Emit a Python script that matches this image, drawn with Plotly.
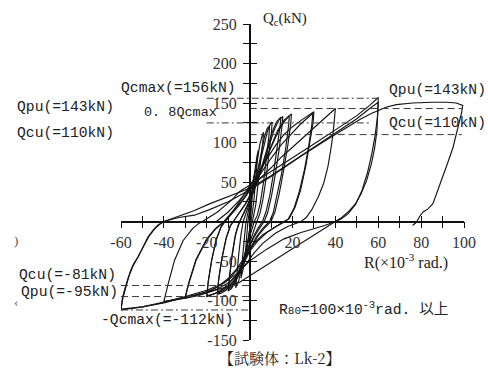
import plotly.graph_objects as go

# ---------------- data (R in 1e-3 rad, Qc in kN) ----------------
loop_c1 = [(0, 0), (0.5, 18), (1.0, 35), (1.6, 50), (2.0, 58), (1.7, 46), (1.2, 28), (0.6, 8), (0.0, -10),
           (-0.7, -26), (-1.4, -38), (-2.0, -45), (-1.7, -30), (-1.2, -12), (-0.8, 0)]
loop_c2 = [(-0.8, 0), (-0.2, 10), (0.6, 26), (1.5, 46), (2.5, 68), (3.4, 82), (4.0, 90), (3.6, 76), (2.8, 50),
           (1.9, 24), (1.0, 6), (0.2, -8), (-0.8, -24), (-2.0, -44), (-3.0, -60), (-3.7, -68), (-4.0, -72),
           (-3.5, -52), (-2.8, -28), (-2.0, -8), (-1.6, 0)]
loop_c3 = [(-1.6, 0), (-0.8, 10), (0.2, 22), (1.2, 38), (2.4, 58), (3.6, 80), (4.8, 98), (5.8, 108), (6.5, 113),
           (6.2, 102), (5.2, 76), (4.0, 46), (2.8, 20), (1.6, 4), (0.4, -10), (-1.0, -26), (-2.4, -44),
           (-3.8, -62), (-5.2, -76), (-6.5, -84), (-6.0, -66), (-5.1, -42), (-4.0, -16), (-3.0, 0)]
loop_c4 = [(-3.0, 0), (-2.0, 9), (-0.5, 20), (1.0, 32), (2.5, 48), (4.0, 68), (5.5, 90), (7.0, 108), (8.2, 118),
           (9.3, 121), (9.0, 108), (7.9, 80), (6.5, 50), (5.0, 24), (3.6, 8), (2.2, 0), (0.8, -12), (-0.8, -26),
           (-2.5, -44), (-4.5, -62), (-6.5, -76), (-8.5, -85), (-10.0, -88), (-9.4, -70), (-8.2, -45),
           (-6.8, -20), (-5.5, -6), (-4.6, 0)]
loop_c4b = [(-4.6, 0), (-3.2, 8), (-1.5, 18), (0.5, 30), (2.5, 48), (4.5, 72), (6.5, 96), (8.3, 114), (9.6, 123),
            (10.5, 126), (10.2, 114), (9.1, 86), (7.7, 55), (6.2, 28), (4.8, 10), (3.4, 0), (1.8, -12),
            (0.0, -27), (-2.0, -45), (-4.2, -62), (-6.4, -75), (-8.4, -83), (-10.0, -86), (-9.3, -66),
            (-8.1, -40), (-6.6, -16), (-5.2, -4), (-4.6, 0)]
loop_c5 = [(-4.6, 0), (-3.0, 9), (-1.0, 19), (1.0, 31), (3.0, 46), (5.5, 68), (8.0, 92), (10.5, 113), (12.5, 126),
           (14.0, 131), (14.6, 132), (14.2, 121), (12.9, 94), (11.2, 62), (9.4, 33), (7.6, 12), (6.0, 0),
           (4.0, -8), (2.0, -18), (0.0, -31), (-2.5, -50), (-5.0, -67), (-8.0, -80), (-11.0, -87),
           (-13.5, -91), (-15.0, -92), (-14.5, -75), (-13.0, -48), (-11.0, -22), (-9.0, -6), (-7.6, 0)]
loop_c5b = [(-7.6, 0), (-5.5, 8), (-3.0, 17), (0.0, 30), (3.0, 46), (6.0, 70), (9.0, 96), (11.5, 116), (13.5, 128),
            (15.5, 133), (15.1, 121), (13.8, 92), (12.0, 60), (10.2, 32), (8.4, 11), (6.8, 0), (4.5, -9),
            (2.0, -20), (-0.5, -34), (-3.0, -52), (-6.0, -69), (-9.0, -80), (-12.0, -87), (-15.0, -91),
            (-14.4, -72), (-12.9, -46), (-10.9, -20), (-9.0, -5), (-7.6, 0)]
loop_c6 = [(-7.6, 0), (-5.0, 10), (-2.0, 22), (1.0, 38), (4.0, 55), (7.0, 75), (10.0, 96), (13.0, 115), (16.0, 128),
           (18.3, 134), (19.5, 136), (19.2, 124), (17.8, 96), (15.8, 64), (13.8, 35), (11.8, 12), (10.0, 0),
           (7.0, -8), (4.0, -18), (1.0, -32), (-2.0, -50), (-5.0, -66), (-8.0, -78), (-12.0, -86),
           (-16.0, -91), (-20.0, -95), (-19.3, -76), (-17.8, -50), (-15.8, -25), (-13.5, -8), (-11.5, 0)]
loop_c6b = [(-11.5, 0), (-8.5, 9), (-5.0, 20), (-1.5, 33), (2.0, 48), (6.0, 70), (10.0, 94), (13.5, 115),
            (16.0, 126), (18.5, 134), (18.2, 122), (16.9, 94), (15.0, 62), (13.0, 34), (11.0, 11), (9.3, 0),
            (6.0, -9), (3.0, -20), (0.0, -35), (-3.0, -52), (-6.0, -67), (-10.0, -80), (-14.0, -88),
            (-17.0, -92), (-20.0, -94), (-19.2, -74), (-17.6, -48), (-15.5, -22), (-13.2, -6), (-11.5, 0)]
loop_c7 = [(-11.5, 0), (-8.0, 12), (-4.0, 28), (0.0, 45), (4.0, 62), (8.0, 80), (12.0, 96), (16.0, 110),
           (20.0, 120), (24.0, 128), (27.0, 134), (29.0, 137), (30.0, 139), (29.6, 125), (28.2, 100),
           (26.2, 70), (23.8, 40), (21.2, 18), (18.5, 4), (16.5, 0), (12.0, -7), (8.0, -14), (4.0, -24),
           (0.0, -38), (-4.0, -55), (-8.0, -68), (-12.0, -78), (-17.0, -86), (-22.0, -91), (-26.0, -94),
           (-30.0, -97), (-29.2, -86), (-28.0, -75), (-25.0, -49), (-20.2, -24), (-16.0, -10), (-13.0, -3),
           (-12.0, 0)]
loop_c7b = [(-15.5, 0), (-10.0, 12), (-5.0, 26), (0.0, 42), (5.0, 60), (10.0, 80), (15.0, 98), (20.0, 113),
            (24.0, 124), (27.0, 131), (29.5, 137), (29.0, 122), (27.6, 96), (25.6, 66), (23.2, 38), (20.6, 16),
            (18.0, 3), (16.0, 0), (11.0, -8), (6.0, -17), (2.0, -28), (-2.0, -44), (-6.0, -60), (-10.0, -72),
            (-15.0, -83), (-20.0, -89), (-25.0, -93), (-30.0, -96), (-28.0, -74), (-25.0, -48), (-20.2, -23),
            (-16.0, -9), (-13.0, -2), (-12.0, 0)]
loop_c8 = [(-12.0, 0), (-8.0, 12), (-4.0, 25), (0.0, 40), (5.0, 55), (10.0, 68), (15.0, 82), (20.0, 94),
           (25.0, 106), (30.0, 118), (35.0, 130), (38.0, 138), (40.0, 143), (39.5, 128), (38.9, 111),
           (37.8, 90), (36.5, 69), (34.5, 48), (32.0, 31), (29.0, 15), (26.4, 5), (24.0, 0), (18.0, -6),
           (12.0, -15), (6.0, -28), (2.0, -40), (-2.0, -55), (-6.0, -68), (-10.0, -78), (-16.0, -87),
           (-24.0, -94), (-32.0, -98), (-40.0, -101), (-38.0, -79), (-35.0, -49), (-31.0, -24), (-26.6, -9),
           (-24.0, -3), (-22.0, 0)]
loop_c9 = [(-22.0, 0), (-15.0, 12), (-8.0, 28), (-4.7, 38), (0.0, 46), (10.0, 63), (20.0, 80), (30.0, 98),
           (40.0, 116), (50.0, 134), (56.0, 147), (60.0, 157), (59.8, 140), (59.4, 115), (58.3, 93),
           (56.8, 73), (54.6, 52), (52.0, 35), (49.5, 23), (46.7, 14), (43.0, 5), (40.0, 0), (35.0, -5),
           (30.0, -9), (24.0, -14), (16.0, -22), (8.0, -35), (0.0, -50), (-6.0, -66), (-12.0, -78),
           (-20.0, -87), (-30.0, -95), (-40.0, -102), (-50.0, -108), (-60.0, -112), (-59.2, -98),
           (-58.3, -88), (-57.3, -79), (-55.5, -62), (-54.0, -53), (-52.0, -45), (-50.0, -33), (-47.5, -20),
           (-45.0, -11), (-43.0, -5), (-40.0, 0)]
loop_c9b = [(-40.0, 0), (-34.0, 6), (-30.0, 10), (-25.7, 14), (-19.0, 22), (-12.0, 29), (-6.0, 35), (0.0, 42),
            (10.0, 58), (20.0, 76), (30.0, 94), (40.0, 112), (50.0, 130), (56.0, 143), (60.0, 151),
            (59.6, 132), (58.6, 110), (57.0, 86), (55.0, 62), (52.5, 40), (49.5, 22), (46.0, 10), (42.5, 3),
            (40.0, 0), (30.0, -17.2), (20.0, -34.4), (10.0, -51.7), (0.0, -68.9), (-4.7, -77), (-12.0, -84),
            (-20.0, -89), (-30.0, -96), (-40.0, -103), (-50.0, -108), (-60.0, -111), (-59.3, -96),
            (-58.2, -85), (-56.5, -70), (-54.5, -57), (-52.0, -44), (-49.5, -31), (-47.0, -19), (-44.5, -10),
            (-42.0, -3.5), (-40.0, 0)]
loop_final = [(-40.0, 0), (-33.0, 5), (-25.7, 8), (-18.7, 15), (-10.0, 25), (-4.7, 33), (0.0, 40), (10.0, 57),
              (23.0, 81), (35.0, 102), (45.0, 119), (52.0, 130), (57.0, 137), (60.2, 140.5), (64.0, 145),
              (68.4, 148), (76.0, 150), (85.5, 151), (92.0, 151), (96.4, 150), (99.4, 147), (98.9, 138),
              (98.0, 128), (96.8, 112), (94.9, 94), (92.5, 75), (90.0, 56), (87.8, 40), (85.5, 22.5),
              (83.2, 16), (80.9, 12), (79.2, 6), (77.8, -1), (76.0, -5)]

loops = [loop_c1, loop_c2, loop_c3, loop_c4, loop_c4b, loop_c5, loop_c5b, loop_c6, loop_c6b,
         loop_c7, loop_c7b, loop_c8, loop_c9, loop_c9b, loop_final]

# reference levels (kN) and their R extents
ref_values = [156, 124.8, 143, 110, -81, -95, -112]
ref_r_from = [-20, -20, 0, 0, -60, -60, -60]
ref_r_to = [60, 57, 99, 99, 0, 0, 0]
ref_dash = ["dashdot", "dashdot", "dash", "dash", "dash", "dash", "dashdot"]

x_tick_vals = [-60, -50, -40, -30, -20, -10, 0, 10, 20, 30, 40, 50, 60, 70, 80, 90, 100]
x_tick_text = ["-60", "", "-40", "", "-20", "", "", "", "20", "", "40", "", "60", "", "80", "", "100"]
y_tick_vals = [-150, -125, -100, -75, -50, -25, 0, 25, 50, 75, 100, 125, 150, 175, 200, 225, 250]
y_tick_text = ["-150", "", "-100", "", "-50", "", "", "", "50", "", "100", "", "150", "", "200", "", "250"]

# ---------------- figure ----------------
W, H = 488, 370
ML, MR, MT, MB = 121, 24, 24, 30
PW, PH = W - ML - MR, H - MT - MB

fig = go.Figure()
for lp in loops:
    rr = [p[0] for p in lp]
    qq = [p[1] for p in lp]
    fig.add_trace(go.Scatter(x=rr, y=qq, mode="lines", line=dict(color="#141414", width=1.15),
                             showlegend=False, hoverinfo="skip"))

dash_map = {"dash": "7px,4px", "dashdot": "7px,3px,2px,3px"}
for v, a, b, d in zip(ref_values, ref_r_from, ref_r_to, ref_dash):
    fig.add_trace(go.Scatter(x=[a, b], y=[v, v], mode="lines", xaxis="x2", yaxis="y2",
                             line=dict(color="#3a3a3a", width=1.0, dash=dash_map[d]),
                             showlegend=False, hoverinfo="skip"))

serif = "Liberation Serif, DejaVu Serif, serif"
mono = "Liberation Mono, Noto Sans CJK JP, monospace"
XR = [-60, 100]
YR = [-150, 250]
xpos = (0 - XR[0]) / (XR[1] - XR[0])
ypos = (0 - YR[0]) / (YR[1] - YR[0])

common = dict(showgrid=False, zeroline=False, automargin=False, tickcolor="#111", tickwidth=1.2, ticklen=6)
fig.update_layout(
    width=W, height=H, margin=dict(l=ML, r=MR, t=MT, b=MB),
    paper_bgcolor="white", plot_bgcolor="white",
    xaxis=dict(range=XR, anchor="free", position=ypos, showline=True, linecolor="#111", linewidth=1.6,
               ticks="outside", tickmode="array", tickvals=x_tick_vals, ticktext=x_tick_text,
               tickfont=dict(family=serif, size=16, color="#333"), **common),
    xaxis2=dict(range=XR, overlaying="x", anchor="free", position=ypos, showline=False,
                ticks="inside", tickmode="array", tickvals=x_tick_vals, showticklabels=False, **common),
    yaxis=dict(range=YR, anchor="free", position=xpos, side="left", showline=True, linecolor="#111",
               linewidth=1.6, ticks="outside", tickmode="array", tickvals=y_tick_vals, ticktext=y_tick_text,
               tickfont=dict(family=serif, size=16, color="#333"), ticklabelstandoff=3, **common),
    yaxis2=dict(range=YR, overlaying="y", anchor="free", position=xpos, side="left", showline=False,
                ticks="inside", tickmode="array", tickvals=y_tick_vals, showticklabels=False, **common),
)


def P(px, py):
    return (px - ML) / PW, (H - MB - py) / PH


def add_text(text, px, py, family=mono, size=14.7, xanchor="left", color="#222"):
    x, y = P(px, py)
    fig.add_annotation(text=text, x=x, y=y, xref="paper", yref="paper", xanchor=xanchor, yanchor="middle",
                       showarrow=False, font=dict(family=family, size=size, color=color))


add_text("Q<sub>c</sub>(kN)", 261, 19, family=serif, size=15)
add_text("R(×10<sup>-3</sup> rad.)", 362, 261, family=serif, size=16)
add_text("Qcmax(=156kN)", 119, 88)
add_text("0. 8Qcmax", 142, 113, size=13.5)
add_text("Qpu(=143kN)", 15, 107)
add_text("Qcu(=110kN)", 15, 133)
add_text("Qpu(=143kN)", 387, 90)
add_text("Qcu(=110kN)", 387, 123)
add_text("Qcu(=-81kN)", 17, 275)
add_text("Qpu(=-95kN)", 19, 292)
add_text("-Qcmax(=-112kN)", 99, 320)
add_text("R<span style='font-size:11px'>80</span>=100×10<sup>-3</sup>rad. 以上", 277, 308)
add_text("【試験体：Lk-2】", 280, 357, family="Noto Serif CJK JP, Noto Sans CJK JP, serif", size=15,
         xanchor="center")
add_text(")", 12, 240, family=serif, size=13, color="#555")
add_text("‹", 12, 301, family=serif, size=13, color="#555")

fig.write_html("out.html", config={"displayModeBar": False},
               post_script="document.body.style.margin='0';document.body.style.padding='0';")
